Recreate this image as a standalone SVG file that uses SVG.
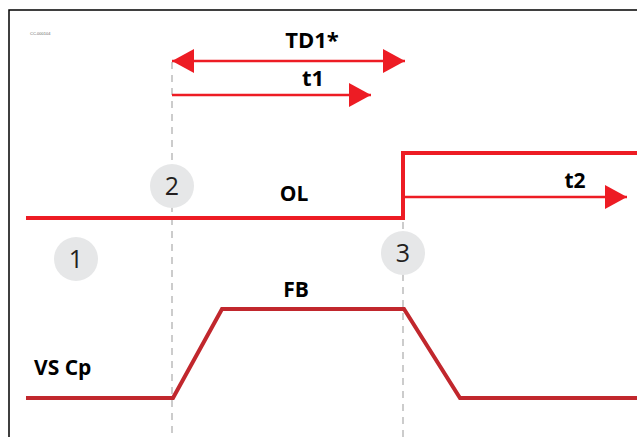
<svg xmlns="http://www.w3.org/2000/svg" width="637" height="437" viewBox="0 0 637 437">
<defs>
<style>
.lbl{font-family:"Open Sans","Liberation Sans",sans-serif;font-weight:bold;fill:#000;}
.num{font-family:"Open Sans","Liberation Sans",sans-serif;font-size:25px;fill:#231f20;text-anchor:middle;}
.circ{fill:#e6e7e8;}
.dash{stroke:#cccccc;stroke-width:2;stroke-dasharray:7 6;fill:none;}
.sig{stroke:#ed1c24;stroke-width:4;fill:none;}
.arr{stroke:#ed1c24;stroke-width:2.5;fill:none;}
</style>
<marker id="ah" markerWidth="22" markerHeight="24" refX="22" refY="12" orient="auto-start-reverse" markerUnits="userSpaceOnUse">
<path d="M0,0 L22,12 L0,24 Z" fill="#ed1c24"/>
</marker>
</defs>
<rect x="0" y="0" width="637" height="437" fill="#ffffff"/>
<rect x="9" y="10" width="640" height="440" fill="none" stroke="#000" stroke-width="1.5"/>
<text x="30" y="35" font-family="Liberation Sans,sans-serif" font-size="4" fill="#666">CC-000104</text>
<g id="connectors">
<line class="dash" x1="172" y1="62" x2="172" y2="437"/>
<line class="dash" x1="403" y1="222" x2="403" y2="437"/>
<polyline class="sig" points="26,218 403,218 403,153 637,153"/>
<polyline points="26,398 173,398 222,309 404,309 460,398 637,398" fill="none" stroke="#c1272d" stroke-width="4"/>
<line class="arr" x1="172" y1="61" x2="405" y2="61" marker-start="url(#ah)" marker-end="url(#ah)"/>
<line class="arr" x1="172" y1="95" x2="371" y2="95" marker-end="url(#ah)"/>
<line class="arr" x1="405" y1="197" x2="627" y2="197" marker-end="url(#ah)"/>
</g>
<g id="label-td1"><text class="lbl" x="312" y="48" font-size="22" text-anchor="middle">TD1*</text></g>
<g id="label-t1"><text class="lbl" x="313" y="86" font-size="22" text-anchor="middle">t1</text></g>
<g id="label-ol"><text class="lbl" x="294" y="201" font-size="21" text-anchor="middle">OL</text></g>
<g id="label-t2"><text class="lbl" x="575" y="188" font-size="21" text-anchor="middle">t2</text></g>
<g id="label-fb"><text class="lbl" x="296" y="297" font-size="21" text-anchor="middle">FB</text></g>
<g id="label-vscp"><text class="lbl" x="34" y="375" font-size="21">VS Cp</text></g>
<g id="step-1"><circle class="circ" cx="76" cy="259" r="22"/><text class="num" x="76" y="268">1</text></g>
<g id="step-2"><circle class="circ" cx="172" cy="186" r="22"/><text class="num" x="172" y="195">2</text></g>
<g id="step-3"><circle class="circ" cx="403" cy="253" r="22"/><text class="num" x="403" y="262">3</text></g>
</svg>
